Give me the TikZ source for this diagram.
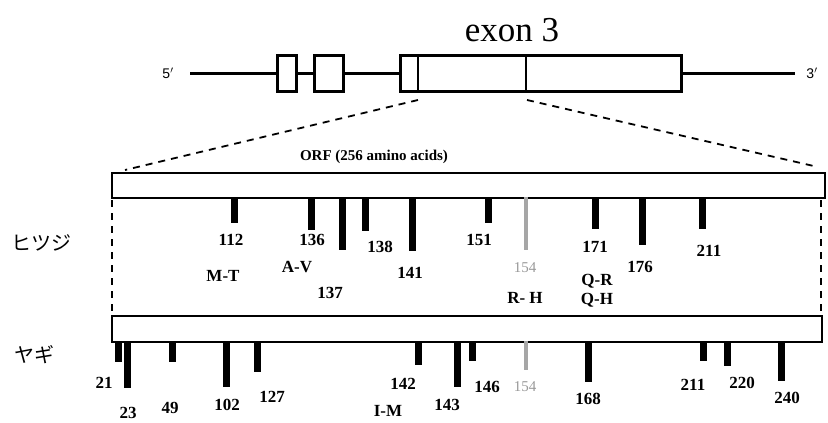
\documentclass[tikz,border=0pt]{standalone}
\usepackage{fontspec}
\setmainfont{Liberation Serif}
\newfontfamily\cjk{Noto Sans CJK JP}
\newfontfamily\sansf{Liberation Sans}
\begin{document}
\begin{tikzpicture}[x=1pt,y=-1pt,
  genel/.style={line width=3pt},
  exonbox/.style={draw, fill=white, line width=3pt},
  orfbox/.style={draw, fill=white, line width=2.4pt},
  zoomline/.style={line width=1.8pt, dash pattern=on 7pt off 6pt},
  bar/.style={line width=7pt},
  graybar/.style={line width=4pt, draw=black!35},
  lab/.style={font=\bfseries\fontsize{17}{17}\selectfont, inner sep=0pt},
  graylab/.style={font=\fontsize{15}{15}\selectfont, text=black!40, inner sep=0pt},
  end/.style={font=\sansf\fontsize{14}{14}\selectfont, inner sep=0pt},
  species/.style={font=\cjk\fontsize{20}{20}\selectfont, inner sep=0pt}
]
\useasboundingbox (0,0) rectangle (828,423);

% gene structure
\node[font=\fontsize{35}{35}\selectfont, inner sep=0pt] (exonlab) at (512,30) {exon 3};
\node[end] (five) at (168,73) {5$'$};
\node[end] (three) at (812,73) {3$'$};
\draw[genel] (190,73) coordinate (gs) -- (795,73) coordinate (ge);
\draw[exonbox] (277,55) rectangle (296,91);
\draw[exonbox] (314,55) rectangle (343,91);
\draw[exonbox] (400,55) rectangle (681,91);
\draw[line width=2pt] (418,55) coordinate (orfs) -- (418,91);
\draw[line width=2pt] (526,55) coordinate (orfe) -- (526,91);

% zoom lines
\draw[zoomline] (418,100) -- (125,170);
\draw[zoomline] (527,100) -- (818,167);
\draw[zoomline] (112,200) -- (112,316);
\draw[zoomline] (821,200) -- (821,316);

% ORF boxes
\draw[orfbox] (112,173) rectangle (825,198);
\node[font=\bfseries\fontsize{15}{15}\selectfont, inner sep=0pt] (orflab) at (374,157) {ORF (256 amino acids)};
\draw[orfbox] (112,316) rectangle (822,342);

% species
\node[species] (sheep) at (42,243) {ヒツジ};
\node[species] (goat) at (35,355) {ヤギ};

% sheep bars
\foreach \x/\b in {234/223, 311/230, 342/250, 365/231, 412/251, 488/223, 595/229, 642/245, 702/229}
  \draw[bar] (\x,197) -- (\x,\b);
\draw[graybar] (526,197) -- (526,250);

% sheep labels
\node[lab] (s112) at (231,240) {112};
\node[lab] (s136) at (312,240) {136};
\node[lab] (s138) at (380,247) {138};
\node[lab] (s141) at (410,273) {141};
\node[lab] (s137) at (330,293) {137};
\node[lab] (s151) at (479,240) {151};
\node[graylab] (s154) at (525,268) {154};
\node[lab] (s171) at (595,247) {171};
\node[lab] (s176) at (640,267) {176};
\node[lab] (s211) at (709,251) {211};
\node[lab] (mt) at (223,276) {M-T};
\node[lab] (av) at (297,267) {A-V};
\node[lab] (qr) at (597,281) {Q-R};
\node[lab] (rh) at (525,298) {R- H};
\node[lab] (qh) at (597,300) {Q-H};

% goat bars
\foreach \x/\b in {118/362, 127/388, 172/362, 226/387, 257/372, 418/365, 457/387, 472/361, 588/382, 703/361, 727/366, 781/381}
  \draw[bar] (\x,341) -- (\x,\b);
\draw[graybar] (526,341) -- (526,370);

% goat labels
\node[lab] (g21) at (104,383) {21};
\node[lab] (g23) at (128,413) {23};
\node[lab] (g49) at (170,408) {49};
\node[lab] (g102) at (227,405) {102};
\node[lab] (g127) at (272,397) {127};
\node[lab] (g142) at (403,384) {142};
\node[lab] (im) at (388,411) {I-M};
\node[lab] (g143) at (447,405) {143};
\node[lab] (g146) at (487,387) {146};
\node[graylab] (g154) at (525,387) {154};
\node[lab] (g168) at (588,399) {168};
\node[lab] (g211) at (693,385) {211};
\node[lab] (g220) at (742,383) {220};
\node[lab] (g240) at (787,398) {240};
\end{tikzpicture}
\end{document}
